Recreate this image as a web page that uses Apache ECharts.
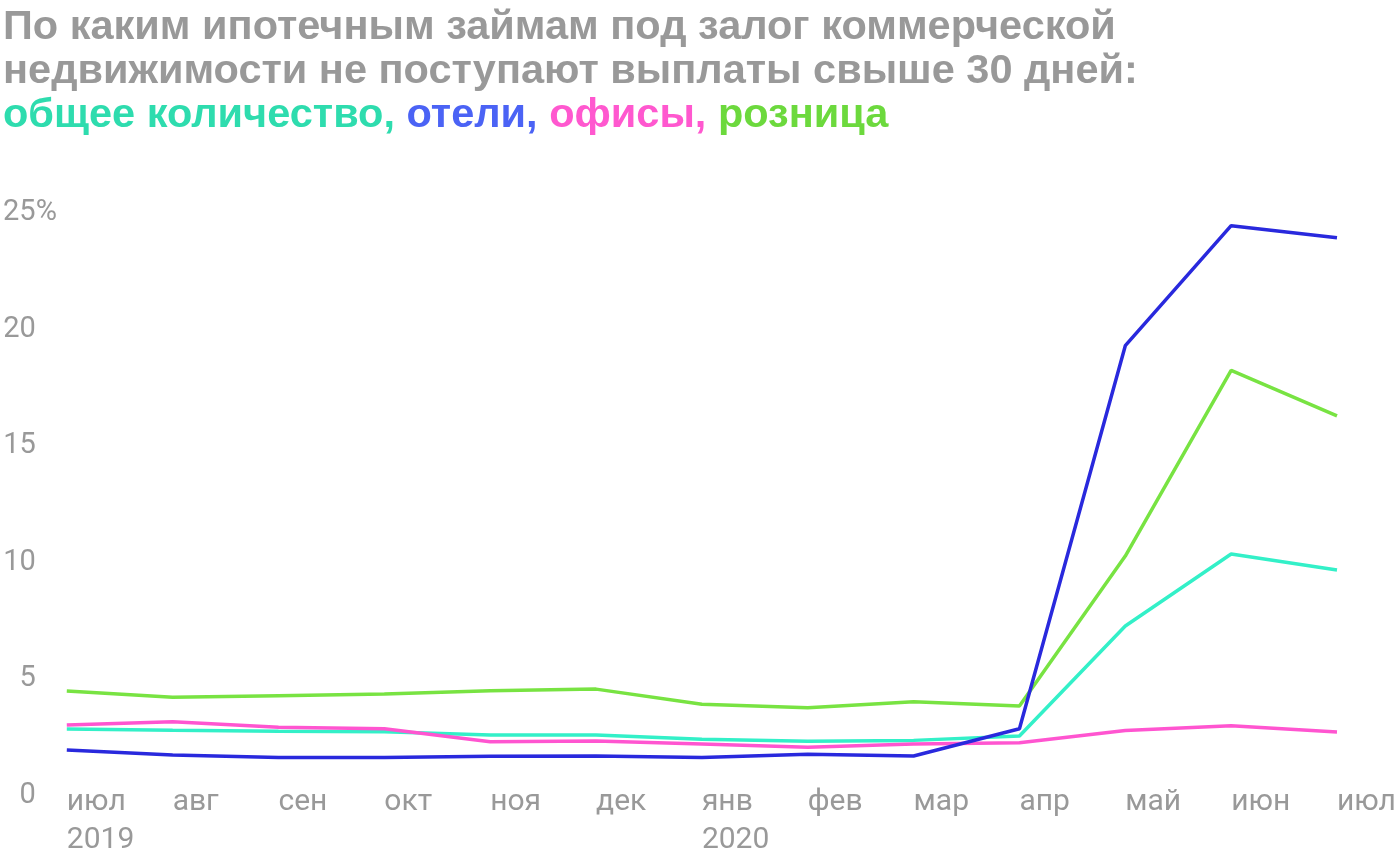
<!DOCTYPE html>
<html>
<head>
<meta charset="utf-8">
<script src="https://cdn.jsdelivr.net/npm/echarts@6/dist/echarts.min.js"></script>
<style>
html,body{margin:0;padding:0;background:#fff;}
#c{width:1400px;height:860px;}
</style>
</head>
<body>
<div id="c"></div>
<script>
const months = ['июл','авг','сен','окт','ноя','дек','янв','фев','мар','апр','май','июн','июл'];
const years = ['2019','','','','','','2020','','','','','',''];
const total   = [2.77, 2.71, 2.67, 2.65, 2.51, 2.51, 2.33, 2.24, 2.28, 2.47, 7.19, 10.28, 9.59];
const hotels  = [1.87, 1.65, 1.54, 1.55, 1.60, 1.61, 1.55, 1.68, 1.61, 2.78, 19.22, 24.37, 23.85];
const offices = [2.94, 3.08, 2.84, 2.78, 2.22, 2.25, 2.12, 1.98, 2.12, 2.18, 2.70, 2.91, 2.64];
const retail  = [4.40, 4.13, 4.20, 4.27, 4.41, 4.48, 3.83, 3.68, 3.94, 3.76, 10.19, 18.16, 16.21];
const yTicks = [0, 5, 10, 15, 20, 25];

const categories = months.map((m, i) => years[i] ? m + '\n' + years[i] : m);

const chart = echarts.init(document.getElementById('c'));
const TF = '"Liberation Sans", Arial, sans-serif';
const FONT = 'Roboto';
const TS = 41.5;
const richT = c => ({color: c, fontFamily: TF, fontWeight: 'bold', fontSize: TS, lineHeight: 44});
chart.setOption({
  animation: false,
  backgroundColor: '#fff',
  title: {
    left: -2, top: 1,
    text: '{g|По каким ипотечным займам под залог коммерческой}\n{g|недвижимости не поступают выплаты свыше 30 дней:}\n{t|общее количество,} {b|отели,} {p|офисы,} {r|розница}',
    textStyle: {
      fontFamily: TF, fontWeight: 'bold', fontSize: TS, lineHeight: 44,
      rich: {
        g: richT('#999999'),
        t: richT('#2edcae'),
        b: richT('#4b63f5'),
        p: richT('#ff58cf'),
        r: richT('#6cd93d')
      }
    }
  },
  grid: {left: 66, right: 63, top: 211, bottom: 66.5, containLabel: false},
  xAxis: {
    type: 'category', data: categories, boundaryGap: false,
    axisLine: {show: false}, axisTick: {show: false}, splitLine: {show: false},
    axisLabel: {
      align: 'left', margin: -10, color: '#999999', fontFamily: FONT, fontSize: 30,
      lineHeight: 38, interval: 0
    }
  },
  yAxis: {
    type: 'value', min: 0, max: 25, interval: 5,
    axisLine: {show: false}, axisTick: {show: false}, splitLine: {show: false},
    axisLabel: {
      align: 'left', margin: 64, color: '#999999', fontFamily: FONT, fontSize: 29,
      formatter: v => v === 25 ? '{n|25}{q|%}' : '{n|' + v + '}',
      rich: {
        n: {color: '#999999', fontFamily: FONT, fontSize: 29, width: 33, align: 'right', padding: [4, 0, 0, 0]},
        q: {color: '#999999', fontFamily: FONT, fontSize: 29, padding: [4, 0, 0, 0]}
      }
    }
  },
  series: [
    {name: 'розница', type: 'line', data: retail, symbol: 'none', lineStyle: {color: '#78e342', width: 3.5}},
    {name: 'общее количество', type: 'line', data: total, symbol: 'none', lineStyle: {color: '#33f0c8', width: 3.5}},
    {name: 'офисы', type: 'line', data: offices, symbol: 'none', lineStyle: {color: '#ff55d0', width: 3.5}},
    {name: 'отели', type: 'line', data: hotels, symbol: 'none', lineStyle: {color: '#2929dd', width: 3.5}}
  ]
});
</script>
</body>
</html>
